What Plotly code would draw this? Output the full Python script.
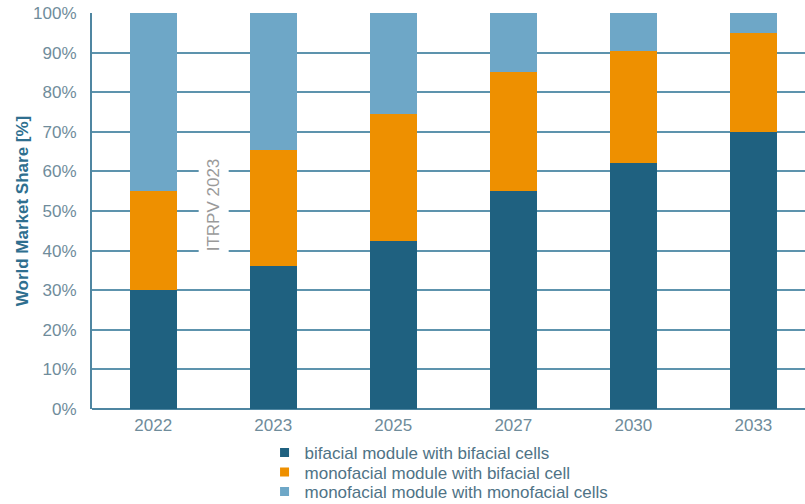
import plotly.graph_objects as go

years = ["2022", "2023", "2025", "2027", "2030", "2033"]
bifacial_bifacial = [30, 36, 42.5, 55, 62, 70]
monofacial_bifacial = [25, 29.5, 32, 30, 28.5, 25]
monofacial_monofacial = [45, 34.5, 25.5, 15, 9.5, 5]

series = [
    ("bifacial module with bifacial cells", bifacial_bifacial, "#1f6180"),
    ("monofacial module with bifacial cell", monofacial_bifacial, "#ee9000"),
    ("monofacial module with monofacial cells", monofacial_monofacial, "#6ea7c7"),
]

legend_names = ["legend", "legend2", "legend3"]
legend_rows = [453, 472.5, 492]  # vertical centre of each key row (px from top)

fig = go.Figure()
for name, vals, color in series:
    fig.add_trace(go.Bar(x=years, y=vals, name=name, marker=dict(color=color, line_width=0),
                         width=0.39, showlegend=False))
# small square legend keys, one compact legend per row
for (name, vals, color), lg in zip(series, legend_names):
    fig.add_trace(go.Scatter(x=[None], y=[None], mode="markers", name=name, legend=lg,
                             marker=dict(symbol="square", size=9, color=color)))

legend_style = dict(
    orientation="v", x=0.242, xanchor="left", xref="paper",
    yanchor="middle", yref="container",
    font=dict(size=17, color="#4f7386"),
    itemwidth=30, bgcolor="rgba(0,0,0,0)", borderwidth=0,
)

fig.update_layout(
    barmode="stack",
    width=805, height=504,
    margin=dict(l=92, r=0, t=13, b=95),
    paper_bgcolor="white", plot_bgcolor="white",
    font=dict(family="Liberation Sans, Arial, sans-serif", size=17, color="#6f8c9b"),
    showlegend=True,
    legend=dict(legend_style, y=1 - legend_rows[0] / 504),
    legend2=dict(legend_style, y=1 - legend_rows[1] / 504),
    legend3=dict(legend_style, y=1 - legend_rows[2] / 504),
    xaxis=dict(
        type="category", range=[-0.51, 5.43],
        showline=False, showgrid=False, ticks="",
        ticklabelstandoff=4,
        tickfont=dict(size=17, color="#6f8c9b"),
    ),
    yaxis=dict(
        range=[0, 100], dtick=10, ticksuffix="%",
        showgrid=True, gridcolor="#5d93ad", gridwidth=1.5,
        zeroline=True, zerolinecolor="#4f86a1", zerolinewidth=2,
        showline=True, linecolor="#4f86a1", linewidth=2,
        ticks="", ticklabelstandoff=10,
        tickfont=dict(size=17, color="#6f8c9b"),
        title=dict(text="<b>World Market Share [%]</b>", font=dict(size=17, color="#2f6f8f"),
                   standoff=0),
    ),
    bargap=0.61,
)

fig.add_annotation(
    text="ITRPV 2023", x=0.5, y=51.5, xref="x", yref="y", xshift=0,
    textangle=-90, showarrow=False, borderpad=5,
    font=dict(size=17, color="#9a9a9a"), bgcolor="white",
)

fig.write_html("out.html")
